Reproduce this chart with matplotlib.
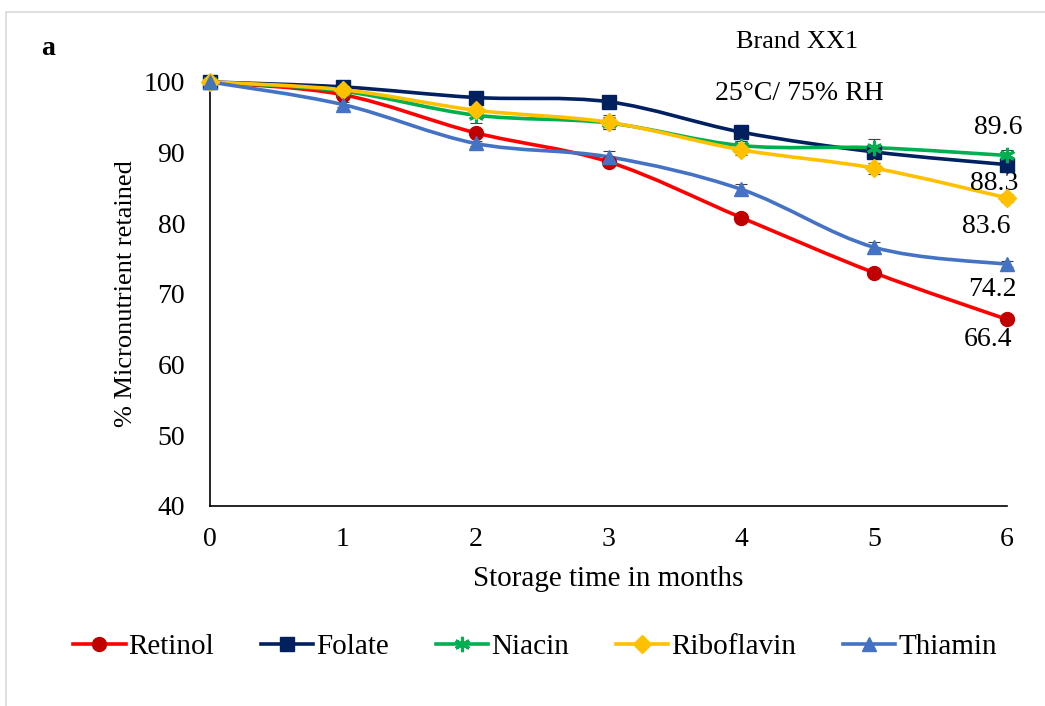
import numpy as np
import matplotlib
matplotlib.use("Agg")
import matplotlib.pyplot as plt
from matplotlib.path import Path
from matplotlib.patches import PathPatch, Rectangle
from matplotlib.lines import Line2D

plt.rcParams['font.family'] = ['Liberation Serif', 'DejaVu Serif']

months = [0, 1, 2, 3, 4, 5, 6]
retinol = [100, 98.2, 92.8, 88.7, 80.8, 73.0, 66.4]
folate = [100, 99.3, 97.8, 97.2, 92.9, 90.1, 88.3]
niacin = [100, 98.7, 95.3, 94.2, 91.0, 90.7, 89.6]
riboflavin = [100, 98.9, 96.0, 94.3, 90.4, 87.8, 83.6]
thiamin = [100, 96.8, 91.3, 89.4, 84.8, 76.6, 74.2]

retinol_err = [0.2, 0.3, 0.3, 0.3, 0.3, 0.3, 0.3]
folate_err = [0.3, 0.4, 0.4, 0.4, 0.4, 0.8, 0.4]
niacin_err = [0.5, 0.6, 1.1, 0.8, 0.6, 1.3, 0.8]
riboflavin_err = [0.3, 0.5, 0.5, 1.0, 0.8, 0.8, 0.6]
thiamin_err = [0.3, 0.4, 0.4, 0.8, 0.8, 0.8, 0.4]

end_labels = ['66.4', '88.3', '89.6', '83.6', '74.2']

FS = 20


def smooth_path(x, y, t=1 / 6):
    # cubic bezier through the points (Catmull-Rom style control points)
    x = np.asarray(x, float)
    y = np.asarray(y, float)
    verts = [(x[0], y[0])]
    codes = [Path.MOVETO]
    n = len(x)
    for i in range(n - 1):
        i0 = max(i - 1, 0)
        i3 = min(i + 2, n - 1)
        c1 = (x[i] + (x[i + 1] - x[i0]) * t, y[i] + (y[i + 1] - y[i0]) * t)
        c2 = (x[i + 1] - (x[i3] - x[i]) * t, y[i + 1] - (y[i3] - y[i]) * t)
        verts += [c1, c2, (x[i + 1], y[i + 1])]
        codes += [Path.CURVE4] * 3
    return Path(verts, codes)


fig = plt.figure(figsize=(10.45, 7.06), dpi=100)
fig.patches.append(Rectangle((0.006, -0.1), 1.1, 1.083, transform=fig.transFigure,
                             fill=False, edgecolor='#d9d9d9', lw=1.2))
ax = fig.add_axes([0.201, 0.2833, 0.7627, 0.6006])

series = [
    ('Retinol', retinol, retinol_err, '#FF0000', '#C00000', 'o', 10, 1),
    ('Folate', folate, folate_err, '#002060', '#002060', 's', 10, 1),
    ('Niacin', niacin, niacin_err, '#00B050', '#00B050', (6, 2, 0), 11, 2.2),
    ('Riboflavin', riboflavin, riboflavin_err, '#FFC000', '#FFC000', 'D', 9, 1),
    ('Thiamin', thiamin, thiamin_err, '#4472C4', '#4472C4', '^', 10, 1),
]

handles = []
for name, vals, err, lc, mc, mk, ms, mew in series:
    ax.errorbar(months, vals, yerr=err, fmt='none', ecolor='#404040',
                elinewidth=0.8, capsize=4, capthick=0.8, zorder=2, clip_on=False)
    ax.add_patch(PathPatch(smooth_path(months, vals), fill=False, edgecolor=lc,
                           lw=2.6, zorder=3, clip_on=False))
    ax.plot(months, vals, ls='none', marker=mk, ms=ms, mew=mew, color=mc,
            zorder=4, clip_on=False)
    handles.append(Line2D([], [], color=lc, lw=2.6, marker=mk, ms=ms, mew=mew,
                          markerfacecolor=mc, markeredgecolor=mc))

ax.set_xlim(0, 6)
ax.set_ylim(40, 100)
ax.set_xticks(months)
ax.set_yticks(np.arange(40, 101, 10))
ax.tick_params(length=0, labelsize=FS)
ax.tick_params(axis='x', pad=15)
ax.tick_params(axis='y', pad=18)
for s in ['top', 'right']:
    ax.spines[s].set_visible(False)
for s in ['left', 'bottom']:
    ax.spines[s].set_linewidth(1.2)

ax.set_xlabel('Storage time in months', fontsize=FS + 1, labelpad=10)
ax.set_ylabel('% Micronutrient retained', fontsize=19, labelpad=5)

# values at six months
label_pos = [(5.86, 63.5), (5.90, 85.7), (5.93, 93.6), (5.84, 79.5), (5.89, 70.6)]
for txt, (lx, ly) in zip(end_labels, label_pos):
    ax.text(lx, ly, txt, fontsize=FS, ha='center', va='center')

fig.text(0.763, 0.940, 'Brand XX1', fontsize=19, ha='center', va='center')
ax.text(4.44, 98.4, '25°C/ 75% RH', fontsize=FS, ha='center', va='center')
fig.text(0.046, 0.932, 'a', fontsize=FS, fontweight='bold', ha='center', va='center')

fig.legend(handles, [s[0] for s in series], loc='center', ncol=5,
           bbox_to_anchor=(0.512, 0.0836), frameon=False, fontsize=FS + 1,
           handlelength=1.8, handletextpad=0.1, columnspacing=1.6)

fig.savefig('out.png', dpi=100)
